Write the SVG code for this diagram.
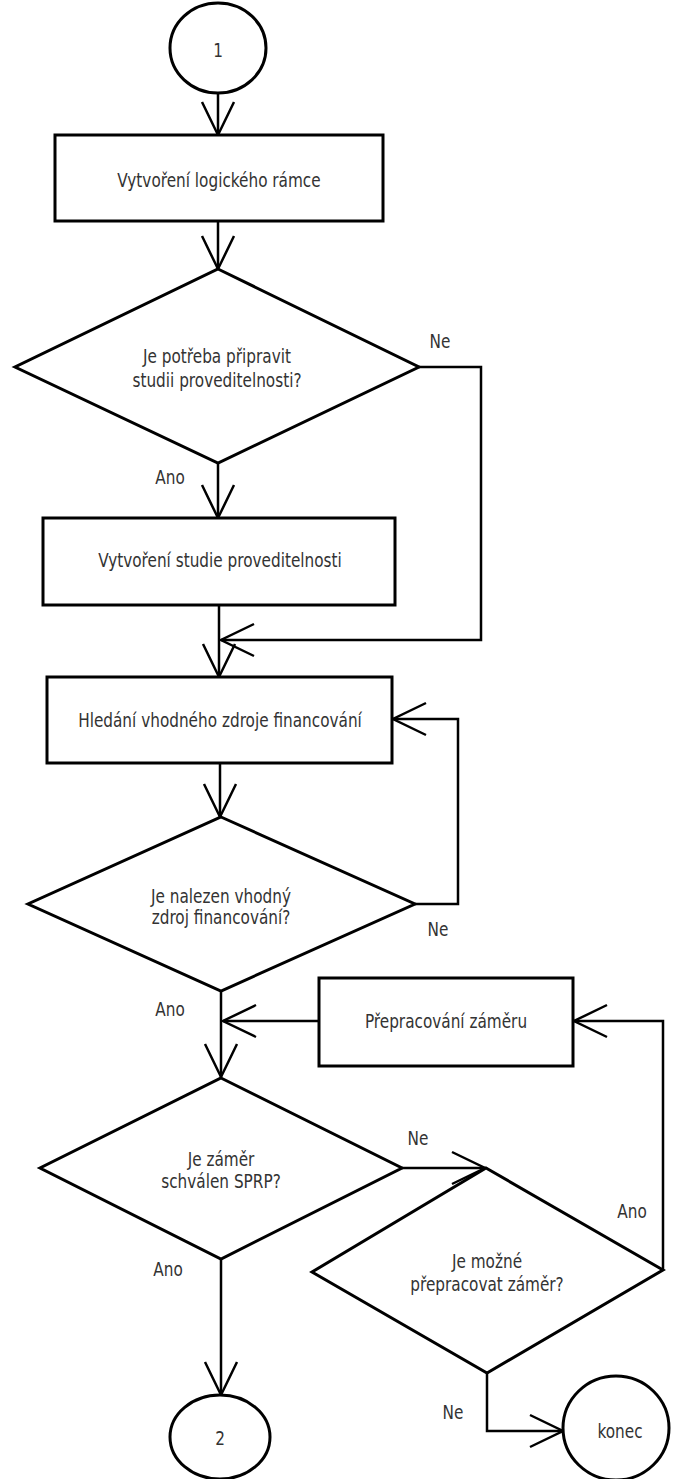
<svg xmlns="http://www.w3.org/2000/svg" width="673" height="1479" viewBox="0 0 673 1479">
  <style>
    .shape { fill: #ffffff; stroke: #000000; stroke-width: 3; }
    .conn { fill: none; stroke: #000000; stroke-width: 2.5; }
    .txt { font-family: "DejaVu Sans Condensed", "DejaVu Sans", sans-serif; font-size: 17px; fill: #333333; text-anchor: middle; }
  </style>
  <defs>
    <marker id="arrow" markerUnits="userSpaceOnUse" markerWidth="40" markerHeight="40" refX="0" refY="0" viewBox="-36 -20 40 40" orient="auto" overflow="visible">
      <path d="M -33 -16 L 0 0 L -33 16" fill="none" stroke="#000000" stroke-width="2.5"/>
    </marker>
  </defs>
  <rect width="673" height="1479" fill="#ffffff"/>

  <!-- connectors -->
  <g id="connectors">
    <line class="conn" x1="218" y1="93" x2="218" y2="135" marker-end="url(#arrow)"/>
    <line class="conn" x1="218" y1="221" x2="218" y2="269" marker-end="url(#arrow)"/>
    <line class="conn" x1="218" y1="463" x2="218" y2="518" marker-end="url(#arrow)"/>
    <polyline class="conn" points="419,367 481,367 481,640 221,640" marker-end="url(#arrow)"/>
    <line class="conn" x1="219" y1="605" x2="219" y2="677" marker-end="url(#arrow)"/>
    <line class="conn" x1="220" y1="763" x2="220" y2="817" marker-end="url(#arrow)"/>
    <polyline class="conn" points="415,904 458,904 458,719 393,719" marker-end="url(#arrow)"/>
    <line class="conn" x1="221" y1="991" x2="221" y2="1077" marker-end="url(#arrow)"/>
    <line class="conn" x1="319" y1="1021" x2="223" y2="1021" marker-end="url(#arrow)"/>
    <line class="conn" x1="402" y1="1168" x2="485" y2="1168" marker-end="url(#arrow)"/>
    <polyline class="conn" points="663,1270 663,1021 574,1021" marker-end="url(#arrow)"/>
    <line class="conn" x1="221" y1="1258" x2="221" y2="1395" marker-end="url(#arrow)"/>
    <polyline class="conn" points="487,1373 487,1431 563,1431" marker-end="url(#arrow)"/>
    <!-- branch labels -->
    <text class="txt" transform="translate(440 348) scale(1 1.18)">Ne</text>
    <text class="txt" transform="translate(170 484) scale(1 1.18)">Ano</text>
    <text class="txt" transform="translate(438 936) scale(1 1.18)">Ne</text>
    <text class="txt" transform="translate(170 1016) scale(1 1.18)">Ano</text>
    <text class="txt" transform="translate(418 1145) scale(1 1.18)">Ne</text>
    <text class="txt" transform="translate(632 1218) scale(1 1.18)">Ano</text>
    <text class="txt" transform="translate(168 1276) scale(1 1.18)">Ano</text>
    <text class="txt" transform="translate(453 1419) scale(1 1.18)">Ne</text>
  </g>

  <g id="start1">
    <ellipse class="shape" cx="218" cy="48" rx="48" ry="45"/>
    <text class="txt" transform="translate(218 57) scale(1 1.18)">1</text>
  </g>

  <g id="logframe">
    <rect class="shape" x="55" y="135" width="328" height="86"/>
    <text class="txt" transform="translate(219 187) scale(1 1.18)">Vytvoření logického rámce</text>
  </g>

  <g id="needStudy">
    <polygon class="shape" points="218,269 419,367 218,463 15,367"/>
    <text class="txt" transform="translate(217 363) scale(1 1.18)">Je potřeba připravit</text>
    <text class="txt" transform="translate(217 387) scale(1 1.18)">studii proveditelnosti?</text>
  </g>

  <g id="study">
    <rect class="shape" x="43" y="518" width="352" height="87"/>
    <text class="txt" transform="translate(220 567) scale(1 1.18)">Vytvoření studie proveditelnosti</text>
  </g>

  <g id="findFunding">
    <rect class="shape" x="47" y="677" width="345" height="86"/>
    <text class="txt" transform="translate(220 727) scale(1 1.18)">Hledání vhodného zdroje financování</text>
  </g>

  <g id="fundingFound">
    <polygon class="shape" points="221,817 415,904 221,991 28,904"/>
    <text class="txt" transform="translate(221 903) scale(1 1.18)">Je nalezen vhodný</text>
    <text class="txt" transform="translate(221 924) scale(1 1.18)">zdroj financování?</text>
  </g>

  <g id="rework">
    <rect class="shape" x="319" y="978" width="254" height="88"/>
    <text class="txt" transform="translate(446 1028) scale(1 1.18)">Přepracování záměru</text>
  </g>

  <g id="approved">
    <polygon class="shape" points="221,1078 402,1168 221,1259 40,1168"/>
    <text class="txt" transform="translate(221 1166) scale(1 1.18)">Je záměr</text>
    <text class="txt" transform="translate(221 1188) scale(1 1.18)">schválen SPRP?</text>
  </g>

  <g id="canRework">
    <polygon class="shape" points="486,1168 663,1270 487,1373 312,1272"/>
    <text class="txt" transform="translate(487 1268) scale(1 1.18)">Je možné</text>
    <text class="txt" transform="translate(487 1291) scale(1 1.18)">přepracovat záměr?</text>
  </g>

  <g id="end2">
    <ellipse class="shape" cx="220" cy="1437" rx="50" ry="42"/>
    <text class="txt" transform="translate(220 1445) scale(1 1.18)">2</text>
  </g>

  <g id="konec">
    <ellipse class="shape" cx="616" cy="1428" rx="53" ry="52"/>
    <text class="txt" transform="translate(620 1438) scale(1 1.18)">konec</text>
  </g>
</svg>
